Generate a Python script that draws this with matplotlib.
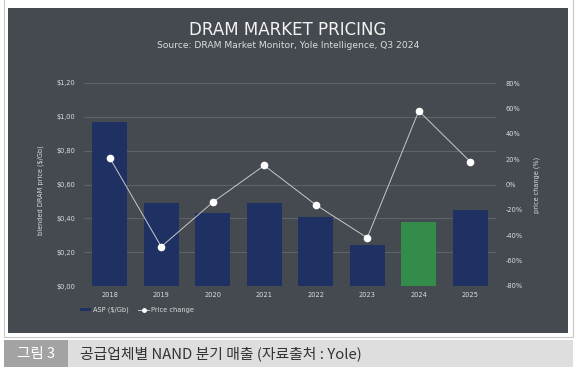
import matplotlib
matplotlib.use('agg')
import matplotlib.pyplot as plt
from matplotlib.patches import Rectangle
from matplotlib.ticker import FuncFormatter

years = ['2018', '2019', '2020', '2021', '2022', '2023', '2024', '2025']
asp = [0.97, 0.49, 0.43, 0.49, 0.41, 0.24, 0.38, 0.45]
price_change = [21, -49, -14, 15, -16, -42, 58, 18]
bar_colors = ['#1f3063'] * 6 + ['#348c4b', '#1f3063']

left_ticks = [0, 0.2, 0.4, 0.6, 0.8, 1.0, 1.2]
right_ticks = [-80, -60, -40, -20, 0, 20, 40, 60, 80]

panel = '#454a50'
grid_c = '#5e6369'
txt = '#dcdcdc'

plt.rcParams['font.family'] = ['DejaVu Sans']

W, H = 579, 374
fig = plt.figure(figsize=(W / 100, H / 100), dpi=100)
fig.patch.set_facecolor('white')

def box(x0, y0, x1, y1, **kw):
    # pixel coords (top-left origin) -> figure fraction
    r = Rectangle((x0 / W, 1 - y1 / H), (x1 - x0) / W, (y1 - y0) / H,
                  transform=fig.transFigure, zorder=-5, **kw)
    fig.patches.append(r)

box(4, -2, 573, 337, facecolor='white', edgecolor='#c8c8c8', lw=0.8)
box(8, 8, 568, 333, facecolor=panel, edgecolor='none')
box(4, 340, 573, 367, facecolor='#dedede', edgecolor='none')
box(4, 340, 68, 367, facecolor='#a3a3a3', edgecolor='none')

fig.text(288 / W, 1 - 30 / H, 'DRAM MARKET PRICING', ha='center', va='center',
         color='#f2f2f2', fontsize=12)
fig.text(288 / W, 1 - 46 / H, 'Source: DRAM Market Monitor, Yole Intelligence, Q3 2024',
         ha='center', va='center', color=txt, fontsize=6.6)

fig.text(36 / W, 1 - 354 / H, '그림 3', ha='center', va='center', color='white',
         fontsize=10.5, family=['Noto Sans CJK KR', 'DejaVu Sans'])
fig.text(80 / W, 1 - 354 / H, '공급업체별 NAND 분기 매출 (자료출처 : Yole)', ha='left',
         va='center', color='#333333', fontsize=10.7,
         family=['Noto Sans CJK KR', 'DejaVu Sans'])

ax = fig.add_axes([84 / W, 1 - 286 / H, 412 / W, 203 / H])
ax.set_facecolor('none')
x = list(range(len(years)))
bars = ax.bar(x, asp, width=0.68, color=bar_colors, zorder=2, label='ASP ($/Gb)')
ax.set_xlim(-0.5, 7.5)
ax.set_ylim(0, 1.2)
ax.set_yticks(left_ticks)
ax.yaxis.set_major_formatter(FuncFormatter(lambda v, p: '$' + f'{v:.2f}'.replace('.', ',')))
ax.set_xticks(x)
ax.set_xticklabels(years)
ax.grid(axis='y', color=grid_c, lw=0.8, zorder=0)
for s in ax.spines.values():
    s.set_visible(False)
ax.tick_params(length=0, colors=txt, labelsize=4.8)
ax.tick_params(axis='y', pad=6)
ax.tick_params(axis='x', pad=4)
ax.set_ylabel('blended DRAM price ($/Gb)', color=txt, fontsize=4.7)
ax.yaxis.set_label_coords(-0.097, 0.47)

ax2 = ax.twinx()
line, = ax2.plot(x, price_change, color='#c8c8c8', lw=0.7, marker='o', ms=4.5,
                 mfc='white', mec='white', zorder=3, label='Price change')
ax2.set_ylim(-80, 80)
ax2.set_yticks(right_ticks)
ax2.set_yticklabels([f'{t}%' for t in right_ticks])
for s in ax2.spines.values():
    s.set_visible(False)
ax2.tick_params(length=0, colors=txt, labelsize=4.8, pad=7)
ax2.set_ylabel('price change (%)', color=txt, fontsize=4.7, rotation=90)
ax2.yaxis.set_label_coords(1.09, 0.5)

h_line = plt.Line2D([], [], color='#c8c8c8', lw=0.7, marker='o', ms=2.5,
                    mfc='white', mec='white')
leg = fig.legend(handles=[bars, h_line], labels=['ASP ($/Gb)', 'Price change'],
                 loc='center left', bbox_to_anchor=(74 / W, 1 - 310 / H), ncol=2,
                 frameon=False, fontsize=4.8, handlelength=1.6, handleheight=0.4,
                 columnspacing=1.5, handletextpad=0.3, labelcolor=txt)

fig.savefig('out.png', dpi=100)
